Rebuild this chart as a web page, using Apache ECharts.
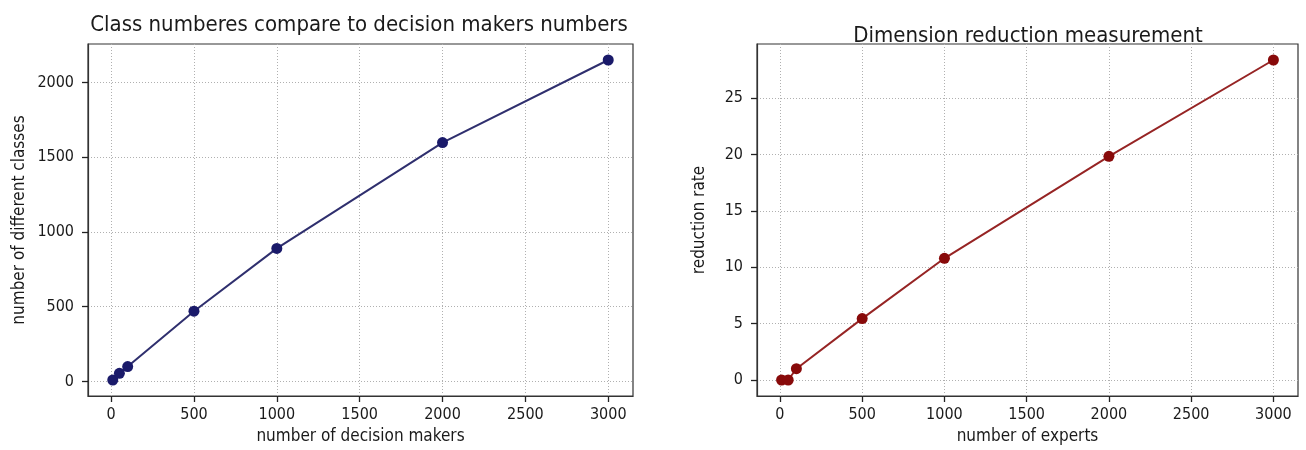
<!DOCTYPE html>
<html>
<head>
<meta charset="utf-8">
<script src="https://cdn.jsdelivr.net/npm/echarts@6/dist/echarts.min.js"></script>
<style>
html,body{margin:0;padding:0;background:#fff;}
#c{width:1306px;height:450px;}
</style>
</head>
<body>
<div id="c"></div>
<script>
// ---- data ----
var decisionMakers = [10, 50, 100, 500, 1000, 2000, 3000];
var classCounts    = [10, 55, 100, 470, 890, 1598, 2150];
var experts        = [10, 50, 100, 500, 1000, 2000, 3000];
var reductionRate  = [0, 0, 1.0, 5.45, 10.8, 19.85, 28.4];
var xTicks      = [0, 500, 1000, 1500, 2000, 2500, 3000];
var yTicksLeft  = [0, 500, 1000, 1500, 2000];
var yTicksRight = [0, 5, 10, 15, 20, 25];

var FONT = '"DejaVu Sans Condensed", "DejaVu Sans", sans-serif';
var TXT = '#1a1a1a';

function pad(arr) {
  var mn = Math.min.apply(null, arr), mx = Math.max.apply(null, arr);
  var r = mx - mn;
  return [mn - 0.05 * r, mx + 0.05 * r];
}
function pairs(xs, ys) { return xs.map(function (x, i) { return [x, ys[i]]; }); }
function plain(v) { return String(v); }

var xl = pad(decisionMakers), yl = pad(classCounts);
var xr = pad(experts), yr = pad(reductionRate);

function xAxis(idx, ext, name) {
  return {
    type: 'value', gridIndex: idx, min: ext[0], max: ext[1],
    name: name, nameLocation: 'middle', nameGap: 32,
    nameTextStyle: { fontFamily: FONT, fontSize: 17, color: TXT },
    axisLine: { show: true, onZero: false, lineStyle: { color: '#333', width: 1.2 } },
    axisTick: { show: true, length: 6, inside: false, customValues: xTicks, lineStyle: { color: '#222', width: 1.3 } },
    axisLabel: { customValues: xTicks, margin: 11, fontFamily: FONT, fontSize: 16, color: TXT, formatter: plain },
    splitLine: { show: true, lineStyle: { color: '#b0b0b0', type: [1, 2], width: 1 } }
  };
}
function yAxis(idx, ext, ticks, name, gap) {
  return {
    type: 'value', gridIndex: idx, min: ext[0], max: ext[1],
    name: name, nameLocation: 'middle', nameGap: gap, nameRotate: 90,
    nameTextStyle: { fontFamily: FONT, fontSize: 17, color: TXT },
    axisLine: { show: true, onZero: false, lineStyle: { color: '#333', width: 1.2 } },
    axisTick: { show: true, length: 6, inside: false, customValues: ticks, lineStyle: { color: '#222', width: 1.3 } },
    axisLabel: { customValues: ticks, margin: 14, fontFamily: FONT, fontSize: 16, color: TXT, formatter: plain },
    splitLine: { show: true, lineStyle: { color: '#b0b0b0', type: [1, 2], width: 1 } }
  };
}

var chart = echarts.init(document.getElementById('c'), null, { renderer: 'canvas' });
chart.setOption({
  backgroundColor: '#fff',
  animation: false,
  title: [
    { text: 'Class numberes compare to decision makers numbers', left: 354, top: 9, textAlign: 'center',
      textStyle: { fontFamily: FONT, fontSize: 22, fontWeight: 'normal', color: TXT } },
    { text: 'Dimension reduction measurement', left: 1023, top: 20, textAlign: 'center',
      textStyle: { fontFamily: FONT, fontSize: 22, fontWeight: 'normal', color: TXT } }
  ],
  grid: [
    { left: 88, top: 44, width: 545, height: 354, show: true, borderColor: '#333', borderWidth: 1.2, backgroundColor: 'transparent' },
    { left: 757, top: 44, width: 541, height: 354, show: true, borderColor: '#333', borderWidth: 1.2, backgroundColor: 'transparent' }
  ],
  xAxis: [
    xAxis(0, xl, 'number of decision makers'),
    xAxis(1, xr, 'number of experts')
  ],
  yAxis: [
    yAxis(0, yl, yTicksLeft, 'number of different classes', 60),
    yAxis(1, yr, yTicksRight, 'reduction rate', 49)
  ],
  series: [
    { type: 'line', xAxisIndex: 0, yAxisIndex: 0, data: pairs(decisionMakers, classCounts),
      symbol: 'circle', symbolSize: 11, showSymbol: true,
      lineStyle: { color: '#2f2f6e', width: 2 }, itemStyle: { color: '#1a1a6a', borderWidth: 0 } },
    { type: 'line', xAxisIndex: 1, yAxisIndex: 1, data: pairs(experts, reductionRate),
      symbol: 'circle', symbolSize: 11, showSymbol: true,
      lineStyle: { color: '#962424', width: 2 }, itemStyle: { color: '#880a0a', borderWidth: 0 } }
  ]
});
</script>
</body>
</html>
